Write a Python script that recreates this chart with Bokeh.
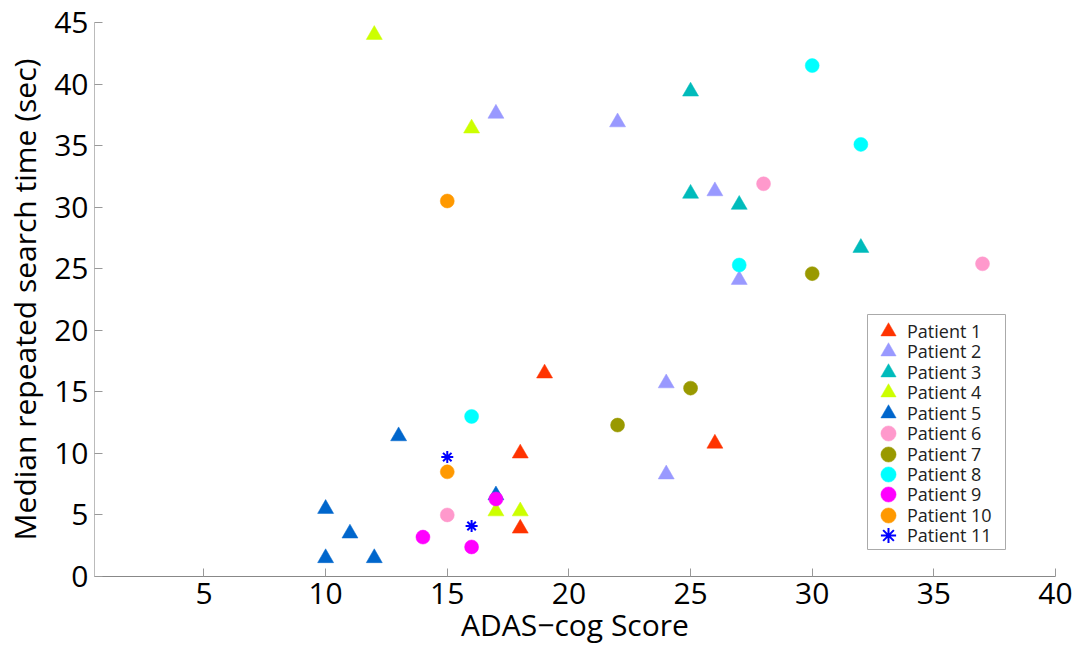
from bokeh.plotting import figure
from bokeh.models import Legend, LegendItem, Range1d, FixedTicker, BoxAnnotation
from bokeh.embed import file_html
from bokeh.resources import INLINE

# ---- data ----
patients = ["Patient 1", "Patient 2", "Patient 3", "Patient 4", "Patient 5", "Patient 6",
            "Patient 7", "Patient 8", "Patient 9", "Patient 10", "Patient 11"]
p1_x = [19, 18, 18, 26]
p1_y = [16.5, 10.0, 3.9, 10.8]
p2_x = [17, 22, 26, 27, 24, 24]
p2_y = [37.6, 36.9, 31.3, 24.1, 15.7, 8.3]
p3_x = [25, 25, 27, 32]
p3_y = [39.4, 31.1, 30.2, 26.7]
p4_x = [12, 16, 17, 18]
p4_y = [44.0, 36.4, 5.3, 5.3]
p5_x = [10, 10, 11, 12, 13, 17]
p5_y = [5.5, 1.5, 3.5, 1.5, 11.4, 6.6]
p6_x = [28, 37, 15]
p6_y = [31.9, 25.4, 5.0]
p7_x = [30, 25, 22]
p7_y = [24.6, 15.3, 12.3]
p8_x = [30, 32, 27, 16]
p8_y = [41.5, 35.1, 25.3, 13.0]
p9_x = [14, 16, 17]
p9_y = [3.2, 2.4, 6.3]
p10_x = [15, 15]
p10_y = [30.5, 8.5]
p11_x = [15, 16]
p11_y = [9.7, 4.1]

xs = [p1_x, p2_x, p3_x, p4_x, p5_x, p6_x, p7_x, p8_x, p9_x, p10_x, p11_x]
ys = [p1_y, p2_y, p3_y, p4_y, p5_y, p6_y, p7_y, p8_y, p9_y, p10_y, p11_y]
colors = ["#FF3300", "#9999FF", "#00BBBB", "#CCFF00", "#0066CC", "#FF99CC",
          "#999900", "#00FFFF", "#FF00FF", "#FF9900", "#0000FF"]
markers = ["triangle"] * 5 + ["circle"] * 5 + ["asterisk"]

x_ticks = [5, 10, 15, 20, 25, 30, 35, 40]
y_ticks = [0, 5, 10, 15, 20, 25, 30, 35, 40, 45]

FONT = "Open Sans"

p = figure(width=1077, height=647, output_backend="svg", toolbar_location=None,
           x_range=Range1d(0.5, 40), y_range=Range1d(0, 45),
           min_border_left=94, min_border_right=22, min_border_top=22, min_border_bottom=71)

p.xgrid.visible = False
p.ygrid.visible = False
p.outline_line_color = None

renderers = []
for x, y, c, m in zip(xs, ys, colors, markers):
    if m == "triangle":
        r = p.scatter(x, y, marker="triangle", size=16, fill_color=c, line_color=c, line_width=0.5)
    elif m == "circle":
        r = p.scatter(x, y, marker="circle", size=14, fill_color=c, line_color=c, line_width=0.5)
    else:
        r = p.scatter(x, y, marker="asterisk", size=12, line_color=c, line_width=2)
    renderers.append(r)

# axes
for ax, ticks in ((p.xaxis[0], x_ticks), (p.yaxis[0], y_ticks)):
    ax.ticker = FixedTicker(ticks=ticks)
    ax.minor_tick_line_color = None
    ax.major_tick_in = 8
    ax.major_tick_out = 0
    ax.major_tick_line_color = "#999999"
    ax.major_label_text_font = FONT
    ax.major_label_text_font_size = "30px"
    ax.major_label_text_color = "black"
    ax.major_label_standoff = 6
    ax.axis_label_text_font = FONT
    ax.axis_label_text_font_size = "30px"
    ax.axis_label_text_font_style = "normal"
    ax.axis_label_text_color = "black"

p.xaxis.axis_line_color = "#888888"
p.yaxis.axis_line_color = "#BBBBBB"
p.xaxis.axis_label = "ADAS\u2212cog Score"
p.yaxis.axis_label = "Median repeated search time (sec)"
p.xaxis.axis_label_standoff = -3
p.yaxis.axis_label_standoff = 6

# legend frame (screen units, relative to the plot frame)
box = BoxAnnotation(left=773, right=911, bottom=27, top=262,
                    left_units="screen", right_units="screen",
                    bottom_units="screen", top_units="screen",
                    fill_color="white", fill_alpha=1.0,
                    line_color="#AAAAAA", line_width=1, line_alpha=1.0)
p.add_layout(box)

# one legend row per patient (allows large glyphs with tight row spacing)
ROW = 20.47
for i, (name, r) in enumerate(zip(patients, renderers)):
    lg = Legend(items=[LegendItem(label=name, renderers=[r])],
                location=(775, int(round(226.3 - ROW * i))))
    lg.label_text_font = FONT
    lg.label_text_font_size = "18px"
    lg.label_text_color = "#222222"
    lg.glyph_height = 38
    lg.glyph_width = 38
    lg.label_height = 20
    lg.padding = 0
    lg.margin = 0
    lg.spacing = 0
    lg.label_standoff = 0
    lg.border_line_color = None
    lg.background_fill_alpha = 0
    p.add_layout(lg)

open("out.html", "w").write(file_html(p, INLINE))
